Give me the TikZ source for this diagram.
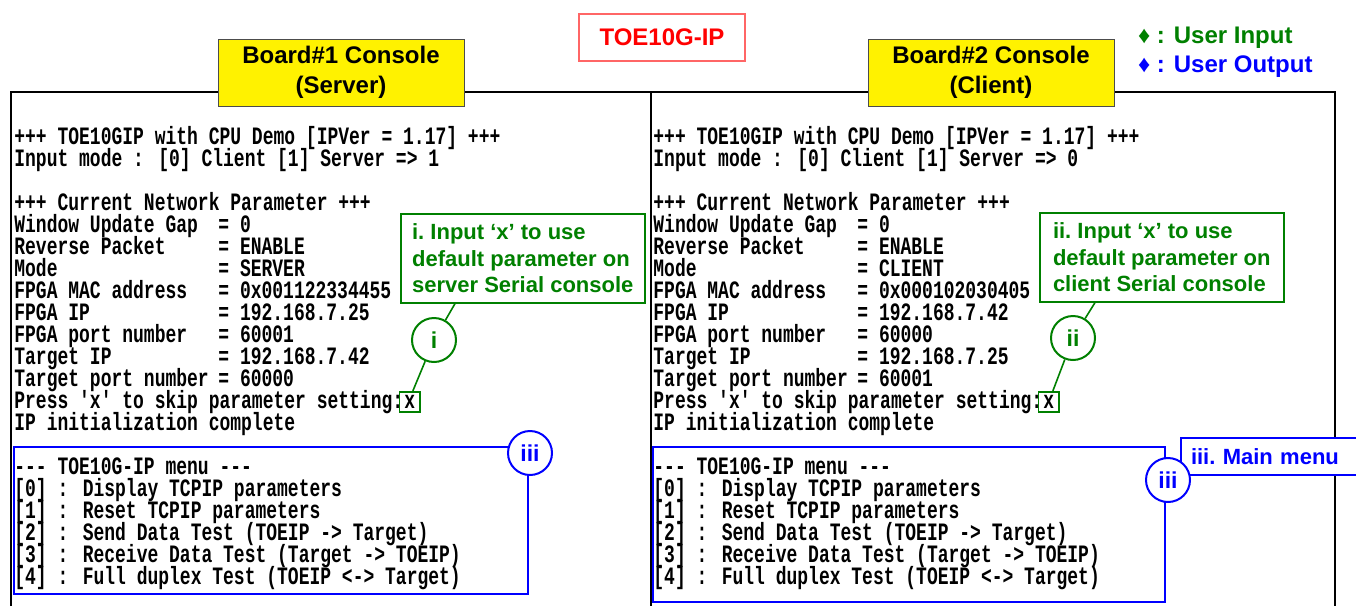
\documentclass[tikz,border=0pt]{standalone}
\usepackage{fontspec}
\setmainfont{Liberation Sans}
\newfontfamily\confont{Liberation Mono}[FakeStretch=0.72,Ligatures=TeXOff]
\definecolor{ingreen}{RGB}{0,128,0}
\definecolor{outblue}{RGB}{0,0,255}
\tikzset{
  con/.style={anchor=base west, inner sep=0pt, font=\confont\bfseries\fontsize{12.5}{11}\selectfont},
  xin/.style={con, draw=ingreen, line width=0.8pt, inner xsep=2.5pt, inner ysep=1.2pt, text height=7.2pt, text depth=0.6pt},
  board/.style={draw=black!70, fill=yellow, align=center, minimum width=123pt, minimum height=33.5pt, font=\bfseries\fontsize{12}{15}\selectfont},
  note/.style={draw=ingreen, text=ingreen, line width=0.8pt, fill=white, align=left, anchor=north west, minimum width=122pt, minimum height=44.5pt, font=\bfseries\fontsize{11}{13.3}\selectfont},
  tag/.style={circle, draw, fill=white, line width=1pt, minimum size=22pt, inner sep=0pt, font=\bfseries\fontsize{11.5}{12}\selectfont},
  conframe/.style={line width=0.9pt},
  menubox/.style={draw=outblue, line width=1pt},
  legend/.style={anchor=west, font=\bfseries\fontsize{12}{14}\selectfont}
}
\begin{document}
\begin{tikzpicture}[x=0.5pt,y=-0.5pt]
\useasboundingbox (0,0) rectangle (1356,606);
\draw[conframe] (11,606) |- (651,92) -- (651,606);
\draw[conframe] (651,92) -| (1335,606);

\node[draw=red!60, line width=0.8pt, text=red, minimum width=83pt, minimum height=23.5pt, font=\bfseries\fontsize{12}{14}\selectfont] (title) at (662,37.5) {TOE10G-IP};
\node[board] (board1) at (341,72.5) {Board\#1 Console\\(Server)};
\node[board] (board2) at (991,72.5) {Board\#2 Console\\(Client)};
\node[legend, text=ingreen] (lgin) at (1131,38) {♦ : User Input};
\node[legend, text=outblue] (lgout) at (1131,67) {♦ : User Output};

\foreach \dx/\s in {0/a,639/b}{
  \foreach \k/\txt in {0/{+++ TOE10GIP with CPU Demo [IPVer = 1.17] +++}, 3/{+++ Current Network Parameter +++},
      4/{Window Update Gap}, 5/{Reverse Packet}, 6/{Mode}, 7/{FPGA MAC address}, 8/{FPGA IP}, 9/{FPGA port number},
      10/{Target IP}, 11/{Target port number}, 12/{Press 'x' to skip parameter setting:}, 13/{IP initialization complete},
      15/{--- TOE10G-IP menu ---}, 16/{[0] : Display TCPIP parameters}, 17/{[1] : Reset TCPIP parameters},
      18/{[2] : Send Data Test (TOEIP -> Target)}, 19/{[3] : Receive Data Test (Target -> TOEIP)},
      20/{[4] : Full duplex Test (TOEIP <-> Target)}}
    \node[con] (\s\k) at (14+\dx,{144.5+22*\k}) {\txt};
}
\node[con] (a1) at (14,166.5) {Input mode : [0] Client [1] Server => 1};
\node[con] (b1) at (653,166.5) {Input mode : [0] Client [1] Server => 0};
\foreach \k/\v in {4/0,5/ENABLE,6/SERVER,7/0x001122334455,8/192.168.7.25,9/60001,10/192.168.7.42,11/60000}
  \node[con] (av\k) at (218,{144.5+22*\k}) {= \v};
\foreach \k/\v in {4/0,5/ENABLE,6/CLIENT,7/0x000102030405,8/192.168.7.42,9/60000,10/192.168.7.25,11/60001}
  \node[con] (bv\k) at (857,{144.5+22*\k}) {= \v};
\node[xin, xshift=-2.5pt] (xa) at (a12.base east) {x};
\node[xin, xshift=-2.5pt] (xb) at (b12.base east) {x};

\draw[menubox] (14,447) rectangle (528,594);
\draw[menubox] (653,447) rectangle (1165,602);

\node[note] (notea) at (400,213) {i.\ Input `x' to use\\default parameter on\\server Serial console};
\node[note] (noteb) at (1039,212) {ii.\ Input `x' to use\\default parameter on\\client Serial console};
\node[draw=outblue, text=outblue, fill=white, line width=1pt, anchor=north west, text width=90pt, inner xsep=5pt, minimum height=18.5pt, font=\bfseries\fontsize{11}{13}\selectfont] (notec) at (1180,437) {iii.\ Main menu};

\node[tag, draw=ingreen, text=ingreen] (taga) at (434,340) {i};
\node[tag, draw=ingreen, text=ingreen] (tagb) at (1073,338) {ii};
\node[tag, draw=outblue, text=outblue] (tagc) at (530,453) {iii};
\node[tag, draw=outblue, text=outblue] (tagd) at (1168,480) {iii};

\draw[ingreen, line width=0.8pt] ([xshift=27.5pt]notea.south west) -- (taga) -- ([xshift=1.5pt]xa.north);
\draw[ingreen, line width=0.8pt] ([xshift=28pt]noteb.south west) -- (tagb) -- ([xshift=2pt]xb.north);
\end{tikzpicture}
\end{document}
